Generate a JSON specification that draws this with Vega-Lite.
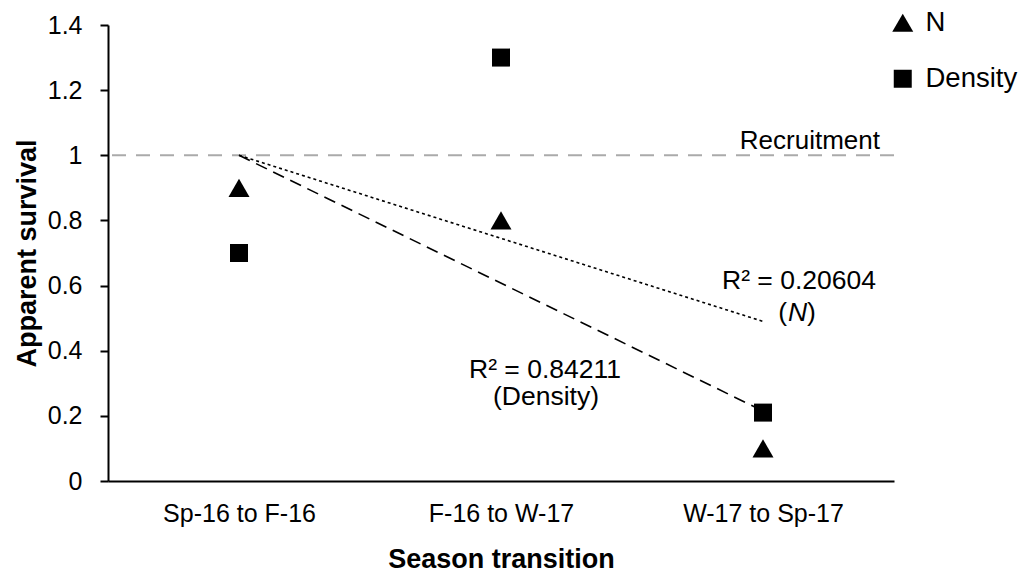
{
  "$schema": "https://vega.github.io/schema/vega-lite/v6.json",
  "width": 786,
  "height": 456,
  "autosize": "none",
  "padding": {"left": 108, "top": 25, "right": 136, "bottom": 95},
  "background": "white",
  "config": {
    "view": {"stroke": null},
    "font": "Liberation Sans",
    "axisX": {
      "domainColor": "black", "domainWidth": 2, "ticks": false, "tickSize": 0, "grid": false,
      "labelFontSize": 25, "labelColor": "black", "labelPadding": 20, "labelAngle": 0,
      "titleFontSize": 27, "titleFontWeight": "bold", "titleColor": "black", "titlePadding": 20
    },
    "axisY": {
      "domainColor": "black", "domainWidth": 2, "tickColor": "black", "tickSize": 8, "tickWidth": 2, "grid": false,
      "labelFontSize": 25, "labelColor": "black", "labelPadding": 18,
      "titleFontSize": 27, "titleFontWeight": "bold", "titleColor": "black", "titlePadding": 6
    },
    "legend": {
      "orient": "none", "legendX": 781, "legendY": -16, "padding": 0,
      "labelFontSize": 27.5, "labelColor": "black", "labelOffset": 9, "rowPadding": 27,
      "symbolStrokeWidth": 0, "symbolFillColor": "black", "title": null
    }
  },
  "datasets": {
    "points": [
      {"season": "Sp-16 to F-16", "measure": "N", "survival": 0.9},
      {"season": "F-16 to W-17", "measure": "N", "survival": 0.8},
      {"season": "W-17 to Sp-17", "measure": "N", "survival": 0.1},
      {"season": "Sp-16 to F-16", "measure": "Density", "survival": 0.7},
      {"season": "F-16 to W-17", "measure": "Density", "survival": 1.3},
      {"season": "W-17 to Sp-17", "measure": "Density", "survival": 0.21}
    ],
    "trendN": [
      {"season": "Sp-16 to F-16", "fit": 1.0},
      {"season": "W-17 to Sp-17", "fit": 0.49}
    ],
    "trendD": [
      {"season": "Sp-16 to F-16", "fit": 1.0},
      {"season": "W-17 to Sp-17", "fit": 0.215}
    ],
    "one": [{}]
  },
  "layer": [
    {
      "data": {"name": "one"},
      "mark": {"type": "rule", "color": "#aaaaaa", "strokeDash": [14, 10], "strokeWidth": 2},
      "encoding": {"y": {"datum": 1, "type": "quantitative"}}
    },
    {
      "data": {"name": "trendN"},
      "mark": {"type": "line", "color": "black", "strokeDash": [3, 3], "strokeWidth": 1.6},
      "encoding": {
        "x": {"field": "season", "type": "nominal", "title": "Season transition",
              "scale": {"type": "point", "padding": 0.5, "domain": ["Sp-16 to F-16", "F-16 to W-17", "W-17 to Sp-17"]}},
        "y": {"field": "fit", "type": "quantitative", "title": "Apparent survival",
              "scale": {"domain": [0, 1.4], "nice": false}, "axis": {"values": [0, 0.2, 0.4, 0.6, 0.8, 1, 1.2, 1.4], "format": "~g"}}
      }
    },
    {
      "data": {"name": "trendD"},
      "mark": {"type": "line", "color": "black", "strokeDash": [12, 7], "strokeWidth": 1.6},
      "encoding": {
        "x": {"field": "season", "type": "nominal", "title": "Season transition"},
        "y": {"field": "fit", "type": "quantitative", "title": "Apparent survival"}
      }
    },
    {
      "data": {"name": "points"},
      "mark": {"type": "point", "filled": true, "color": "black", "opacity": 1},
      "encoding": {
        "x": {"field": "season", "type": "nominal", "title": "Season transition"},
        "y": {"field": "survival", "type": "quantitative", "title": "Apparent survival"},
        "shape": {"field": "measure", "type": "nominal",
                  "scale": {"domain": ["N", "Density"], "range": ["triangle-up", "square"]}},
        "size": {"field": "measure", "type": "nominal",
                 "scale": {"domain": ["N", "Density"], "range": [441, 324]}}
      }
    },
    {
      "data": {"name": "one"},
      "mark": {"type": "text", "text": "Recruitment", "fontSize": 26, "align": "right", "baseline": "alphabetic", "dx": 117, "dy": -6, "color": "black"},
      "encoding": {"x": {"datum": "W-17 to Sp-17", "type": "nominal"}, "y": {"datum": 1, "type": "quantitative"}}
    },
    {
      "data": {"name": "one"},
      "mark": {"type": "text", "text": "R² = 0.20604", "fontSize": 26.5, "align": "center", "baseline": "alphabetic", "dx": 36, "color": "black"},
      "encoding": {"x": {"datum": "W-17 to Sp-17", "type": "nominal"}, "y": {"datum": 0.5895, "type": "quantitative"}}
    },
    {
      "data": {"name": "one"},
      "mark": {"type": "text", "text": "(", "fontSize": 26.5, "align": "right", "baseline": "alphabetic", "dx": 24, "color": "black"},
      "encoding": {"x": {"datum": "W-17 to Sp-17", "type": "nominal"}, "y": {"datum": 0.49, "type": "quantitative"}}
    },
    {
      "data": {"name": "one"},
      "mark": {"type": "text", "text": "N", "fontSize": 26.5, "fontStyle": "italic", "align": "center", "baseline": "alphabetic", "dx": 34.5, "color": "black"},
      "encoding": {"x": {"datum": "W-17 to Sp-17", "type": "nominal"}, "y": {"datum": 0.49, "type": "quantitative"}}
    },
    {
      "data": {"name": "one"},
      "mark": {"type": "text", "text": ")", "fontSize": 26.5, "align": "left", "baseline": "alphabetic", "dx": 44, "color": "black"},
      "encoding": {"x": {"datum": "W-17 to Sp-17", "type": "nominal"}, "y": {"datum": 0.49, "type": "quantitative"}}
    },
    {
      "data": {"name": "one"},
      "mark": {"type": "text", "text": "R² = 0.84211", "fontSize": 26.5, "align": "center", "baseline": "alphabetic", "dx": 44, "color": "black"},
      "encoding": {"x": {"datum": "F-16 to W-17", "type": "nominal"}, "y": {"datum": 0.316, "type": "quantitative"}}
    },
    {
      "data": {"name": "one"},
      "mark": {"type": "text", "text": "(Density)", "fontSize": 26.5, "align": "center", "baseline": "alphabetic", "dx": 45, "color": "black"},
      "encoding": {"x": {"datum": "F-16 to W-17", "type": "nominal"}, "y": {"datum": 0.232, "type": "quantitative"}}
    }
  ]
}
